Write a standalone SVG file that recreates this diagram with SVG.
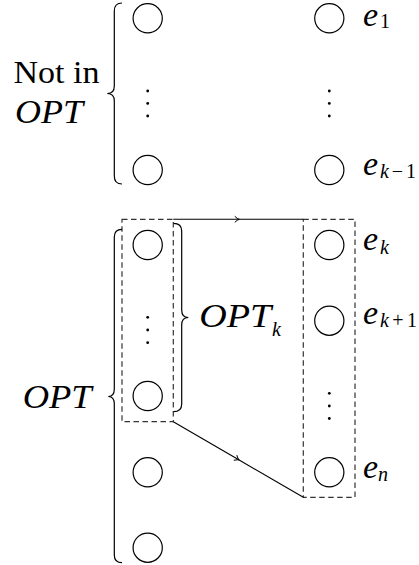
<svg xmlns="http://www.w3.org/2000/svg" width="419" height="565" viewBox="0 0 419 565">
<defs>
<style>
.node{fill:none;stroke:#000;stroke-width:1.2}
.dot{fill:#000;stroke:none}
.brace{fill:none;stroke:#000;stroke-width:1.2}
.box{fill:none;stroke:#333;stroke-width:1.2;stroke-dasharray:5.5 3.5}
.edge{fill:none;stroke:#000;stroke-width:1.1;marker-mid:url(#mid)}
text{font-family:'Liberation Serif','Times New Roman',serif;fill:#000}
.rm{font-size:31px}
.it{font-style:italic;font-size:34px}
.sub{font-size:20px}
.subi{font-style:italic;font-size:20px}
</style>
<marker id="mid" viewBox="-5 -5 10 10" markerWidth="10" markerHeight="10" refX="0" refY="0" orient="auto" markerUnits="userSpaceOnUse">
<path d="M-3.5,-3 Q-1,-0.5 1,0 Q-1,0.5 -3.5,3" fill="none" stroke="#000" stroke-width="1"/>
</marker>
</defs>
<rect width="419" height="565" fill="#fff"/>

<g id="label-notin">
<text class="rm" x="13.5" y="83" textLength="86" lengthAdjust="spacingAndGlyphs">Not in</text>
<text class="it" x="15" y="123" textLength="68" lengthAdjust="spacingAndGlyphs">OPT</text>
</g>
<g id="brace-notin"><path class="brace" d="M122,3 Q114.3,3 114.3,11 L114.3,86 Q114.3,93.5 107.3,93.5 Q114.3,93.5 114.3,101 L114.3,176 Q114.3,184 122,184"/></g>

<g id="l1"><circle class="node" cx="147.7" cy="18.3" r="14.6"/></g>
<g id="ldots1"><circle class="dot" cx="147.7" cy="91" r="1.4"/><circle class="dot" cx="147.7" cy="103.4" r="1.4"/><circle class="dot" cx="147.7" cy="116" r="1.4"/></g>
<g id="l2"><circle class="node" cx="147.7" cy="170" r="14.6"/></g>

<g id="e1"><circle class="node" cx="329.3" cy="18.3" r="14.6"/>
<text class="it" x="363" y="25.5">e</text><text class="sub" x="380" y="28">1</text></g>
<g id="rdots1"><circle class="dot" cx="329.3" cy="91" r="1.4"/><circle class="dot" cx="329.3" cy="103.4" r="1.4"/><circle class="dot" cx="329.3" cy="116" r="1.4"/></g>
<g id="ekm1"><circle class="node" cx="329.3" cy="170" r="14.6"/>
<text class="it" x="363" y="175">e</text><text class="subi" x="380" y="178" textLength="36" lengthAdjust="spacing">k<tspan font-style="normal">−1</tspan></text></g>

<g id="box-optk"><rect class="box" x="122" y="219.3" width="51.3" height="202.4"/></g>
<g id="box-rest"><rect class="box" x="303.3" y="219.3" width="51.7" height="278"/></g>

<g id="o1"><circle class="node" cx="147.7" cy="245" r="14.6"/></g>
<g id="ldots2"><circle class="dot" cx="147.7" cy="317.3" r="1.4"/><circle class="dot" cx="147.7" cy="330" r="1.4"/><circle class="dot" cx="147.7" cy="342.7" r="1.4"/></g>
<g id="o2"><circle class="node" cx="147.7" cy="396" r="14.6"/></g>
<g id="o3"><circle class="node" cx="147.7" cy="472.3" r="14.6"/></g>
<g id="o4"><circle class="node" cx="147.7" cy="547.7" r="14.6"/></g>

<g id="ek"><circle class="node" cx="329.3" cy="245" r="14.6"/>
<text class="it" x="363" y="250">e</text><text class="subi" x="380" y="254">k</text></g>
<g id="ekp1"><circle class="node" cx="329.3" cy="320.7" r="14.6"/>
<text class="it" x="363" y="324">e</text><text class="subi" x="380" y="326.5" textLength="37" lengthAdjust="spacing">k<tspan font-style="normal">+1</tspan></text></g>
<g id="rdots2"><circle class="dot" cx="329.3" cy="393.3" r="1.4"/><circle class="dot" cx="329.3" cy="406" r="1.4"/><circle class="dot" cx="329.3" cy="418.5" r="1.4"/></g>
<g id="en"><circle class="node" cx="329.3" cy="472.3" r="14.6"/>
<text class="it" x="363" y="477.5">e</text><text class="subi" x="378" y="481">n</text></g>

<g id="brace-optk"><path class="brace" d="M173.5,223.3 Q181.7,223.3 181.7,231 L181.7,310 Q181.7,317.5 188.3,317.5 Q181.7,317.5 181.7,325 L181.7,404 Q181.7,411.7 173.5,411.7"/></g>
<g id="label-optk"><text class="it" x="199.3" y="327" textLength="72" lengthAdjust="spacingAndGlyphs">OPT</text><text class="subi" x="272" y="336">k</text></g>

<g id="brace-opt"><path class="brace" d="M122,229.3 Q114.3,229.3 114.3,237 L114.3,389 Q114.3,396.5 108.3,396.5 Q114.3,396.5 114.3,404 L114.3,555 Q114.3,562.7 122,562.7"/></g>
<g id="label-opt"><text class="it" x="22.7" y="407.5" textLength="69" lengthAdjust="spacingAndGlyphs">OPT</text></g>

<g id="connectors">
<path class="edge" d="M173.3,219.3 L238.3,219.3 L303.3,219.3"/>
<path class="edge" d="M173.3,421.7 L238.3,459.5 L303.3,497.3"/>
</g>
</svg>
